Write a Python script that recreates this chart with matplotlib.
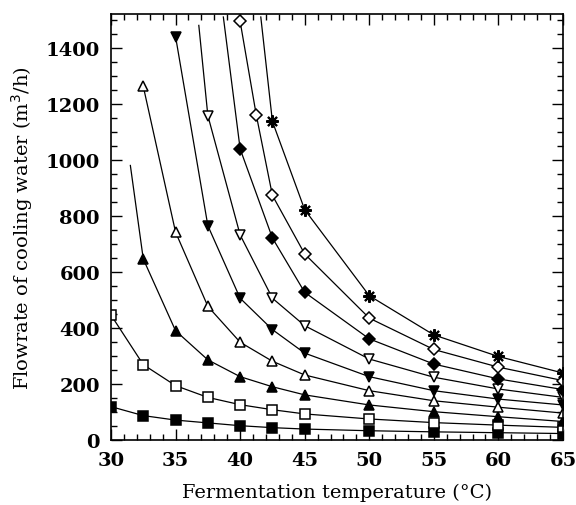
import matplotlib
matplotlib.use("Agg")
import matplotlib.pyplot as plt
from matplotlib.ticker import MultipleLocator

# Data (temperature in °C, flowrate in m3/h)
x_std = [30, 32.5, 35, 37.5, 40, 42.5, 45, 50, 55, 60, 65]

s1_x = x_std
s1_y = [119, 87, 71, 61, 51, 44, 39, 33, 29, 26, 23]

s2_x = x_std
s2_y = [446, 269, 194, 152, 126, 108, 93, 75, 62, 53, 45]

s3_x = [31.5, 32.5, 35, 37.5, 40, 42.5, 45, 50, 55, 60, 65]
s3_y = [980, 646, 390, 286, 226, 190, 161, 125, 101, 83, 66]

s4_x = [32.5, 35, 37.5, 40, 42.5, 45, 50, 55, 60, 65]
s4_y = [1262, 742, 477, 349, 281, 232, 176, 140, 117, 96]

s5_x = [35, 37.5, 40, 42.5, 45, 50, 55, 60, 65]
s5_y = [1440, 765, 506, 394, 310, 226, 176, 146, 125]

s6_x = [36.8, 37.5, 40, 42.5, 45, 50, 55, 60, 65]
s6_y = [1480, 1158, 732, 506, 408, 289, 224, 182, 152]

s7_x = [38.7, 40, 42.5, 45, 50, 55, 60, 65]
s7_y = [1510, 1039, 721, 527, 361, 271, 218, 180]

s8_x = [40, 41.25, 42.5, 45, 50, 55, 60, 65]
s8_y = [1494, 1160, 873, 664, 435, 323, 260, 212]

s9_x = [41.6, 42.5, 45, 50, 55, 60, 65]
s9_y = [1510, 1137, 822, 515, 375, 298, 239]

x_ticks = [30, 35, 40, 45, 50, 55, 60, 65]
y_ticks = [0, 200, 400, 600, 800, 1000, 1200, 1400]

fig = plt.figure(figsize=(5.76, 5.06), dpi=100)
ax = fig.add_axes([0.1927, 0.1285, 0.7847, 0.8415])

series = [
    (s1_x, s1_y, 's', 'black', 0),
    (s2_x, s2_y, 's', 'white', 0),
    (s3_x, s3_y, '^', 'black', 1),
    (s4_x, s4_y, '^', 'white', 0),
    (s5_x, s5_y, 'v', 'black', 0),
    (s6_x, s6_y, 'v', 'white', 1),
    (s7_x, s7_y, 'D', 'black', 1),
    (s8_x, s8_y, 'D', 'white', 0),
]
for xs, ys, m, fc, skip in series:
    ms = 6.5 if m == 'D' else 7.5
    if m == 's':
        ms = 6.5
    ax.plot(xs, ys, color='black', lw=0.9, marker=m, ms=ms,
            mfc=fc, mec='black', mew=1.1, markevery=slice(skip, None))
ax.plot(s9_x, s9_y, color='black', lw=0.9, marker=(8, 2, 0), ms=9,
        mec='black', mew=1.5, markevery=slice(1, None))

ax.set_xlim(30, 65)
ax.set_ylim(0, 1520)
ax.set_xticks(x_ticks)
ax.set_yticks(y_ticks)
ax.xaxis.set_minor_locator(MultipleLocator(1))
ax.yaxis.set_minor_locator(MultipleLocator(50))
ax.tick_params(which='both', direction='in', top=True, right=True, width=1.0)
ax.tick_params(which='major', length=8, pad=8)
ax.tick_params(which='minor', length=4)
for lab in ax.get_xticklabels() + ax.get_yticklabels():
    lab.set_fontfamily('DejaVu Serif')
    lab.set_fontweight('bold')
    lab.set_fontsize(14)
for sp in ax.spines.values():
    sp.set_linewidth(1.2)

ax.set_xlabel('Fermentation temperature (°C)', fontfamily='DejaVu Serif',
              fontsize=14, labelpad=10)
ax.set_ylabel('Flowrate of cooling water (m$^3$/h)', fontfamily='DejaVu Serif',
              fontsize=14, labelpad=8)

fig.savefig('out.png', dpi=100)
